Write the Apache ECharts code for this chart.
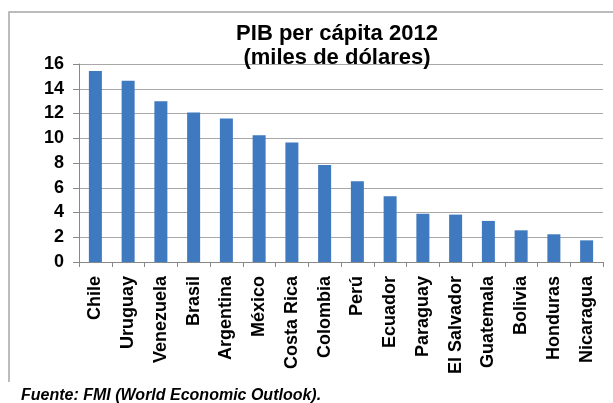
<!DOCTYPE html>
<html>
<head>
<meta charset="utf-8">
<script src="https://cdn.jsdelivr.net/npm/echarts@6/dist/echarts.min.js"></script>
<style>
  html, body { margin: 0; padding: 0; background: #fff; }
</style>
</head>
<body>
<div id="chart" style="width: 613px; height: 403px;"></div>
<script>
const countries = ['Chile', 'Uruguay', 'Venezuela', 'Brasil', 'Argentina', 'México', 'Costa Rica', 'Colombia',
  'Perú', 'Ecuador', 'Paraguay', 'El Salvador', 'Guatemala', 'Bolivia', 'Honduras', 'Nicaragua']
const pibPerCapita = [15.43, 14.65, 12.98, 12.09, 11.6, 10.24, 9.66, 7.84,
  6.52, 5.31, 3.9, 3.83, 3.32, 2.56, 2.24, 1.75]
const yTicks = { min: 0, max: 16, interval: 2 }
const titleText = 'PIB per cápita 2012\n(miles de dólares)'
const sourceText = 'Fuente: FMI (World Economic Outlook).'

const font = 'Liberation Sans, Arial, sans-serif'
const myChart = echarts.init(document.getElementById('chart'))

myChart.setOption({
  animation: false,
  title: {
    text: titleText,
    left: 332,
    top: 17,
    textAlign: 'center',
    textStyle: {
      fontFamily: font,
      fontWeight: 'bold',
      fontSize: 22,
      lineHeight: 24,
      color: '#000',
    },
  },
  grid: {
    left: 79,
    right: 10,
    top: 64,
    bottom: 141,
    containLabel: false,
  },
  xAxis: {
    type: 'category',
    data: countries,
    axisLine: { lineStyle: { color: '#888', width: 1 } },
    axisTick: { show: true, alignWithLabel: false, length: 5, lineStyle: { color: '#888' } },
    axisLabel: {
      rotate: 90,
      margin: 14,
      interval: 0,
      fontFamily: font,
      fontWeight: 'bold',
      fontSize: 18,
      color: '#000',
    },
  },
  yAxis: {
    type: 'value',
    min: yTicks.min,
    max: yTicks.max,
    interval: yTicks.interval,
    axisLine: { show: true, lineStyle: { color: '#888', width: 1 } },
    axisTick: { show: true, length: 6, lineStyle: { color: '#888' } },
    splitLine: { show: true, lineStyle: { color: '#a8a8a8', width: 1 } },
    axisLabel: {
      margin: 15,
      fontFamily: font,
      fontWeight: 'bold',
      fontSize: 18,
      color: '#000',
    },
  },
  series: [
    {
      type: 'bar',
      data: pibPerCapita,
      barWidth: 13,
      itemStyle: { color: '#3f79bf' },
    },
  ],
  graphic: [
    // outer frame (only left and top edges are visible in the picture)
    {
      type: 'polyline',
      shape: { points: [[9, 382], [9, 12], [613, 12]] },
      style: { stroke: '#a6a6a6', lineWidth: 1.5, fill: null },
    },
    {
      type: 'text',
      left: 21,
      top: 388,
      style: {
        text: sourceText,
        font: 'italic bold 16px Liberation Sans, Arial, sans-serif',
        fill: '#000',
      },
    },
  ],
})
</script>
</body>
</html>
